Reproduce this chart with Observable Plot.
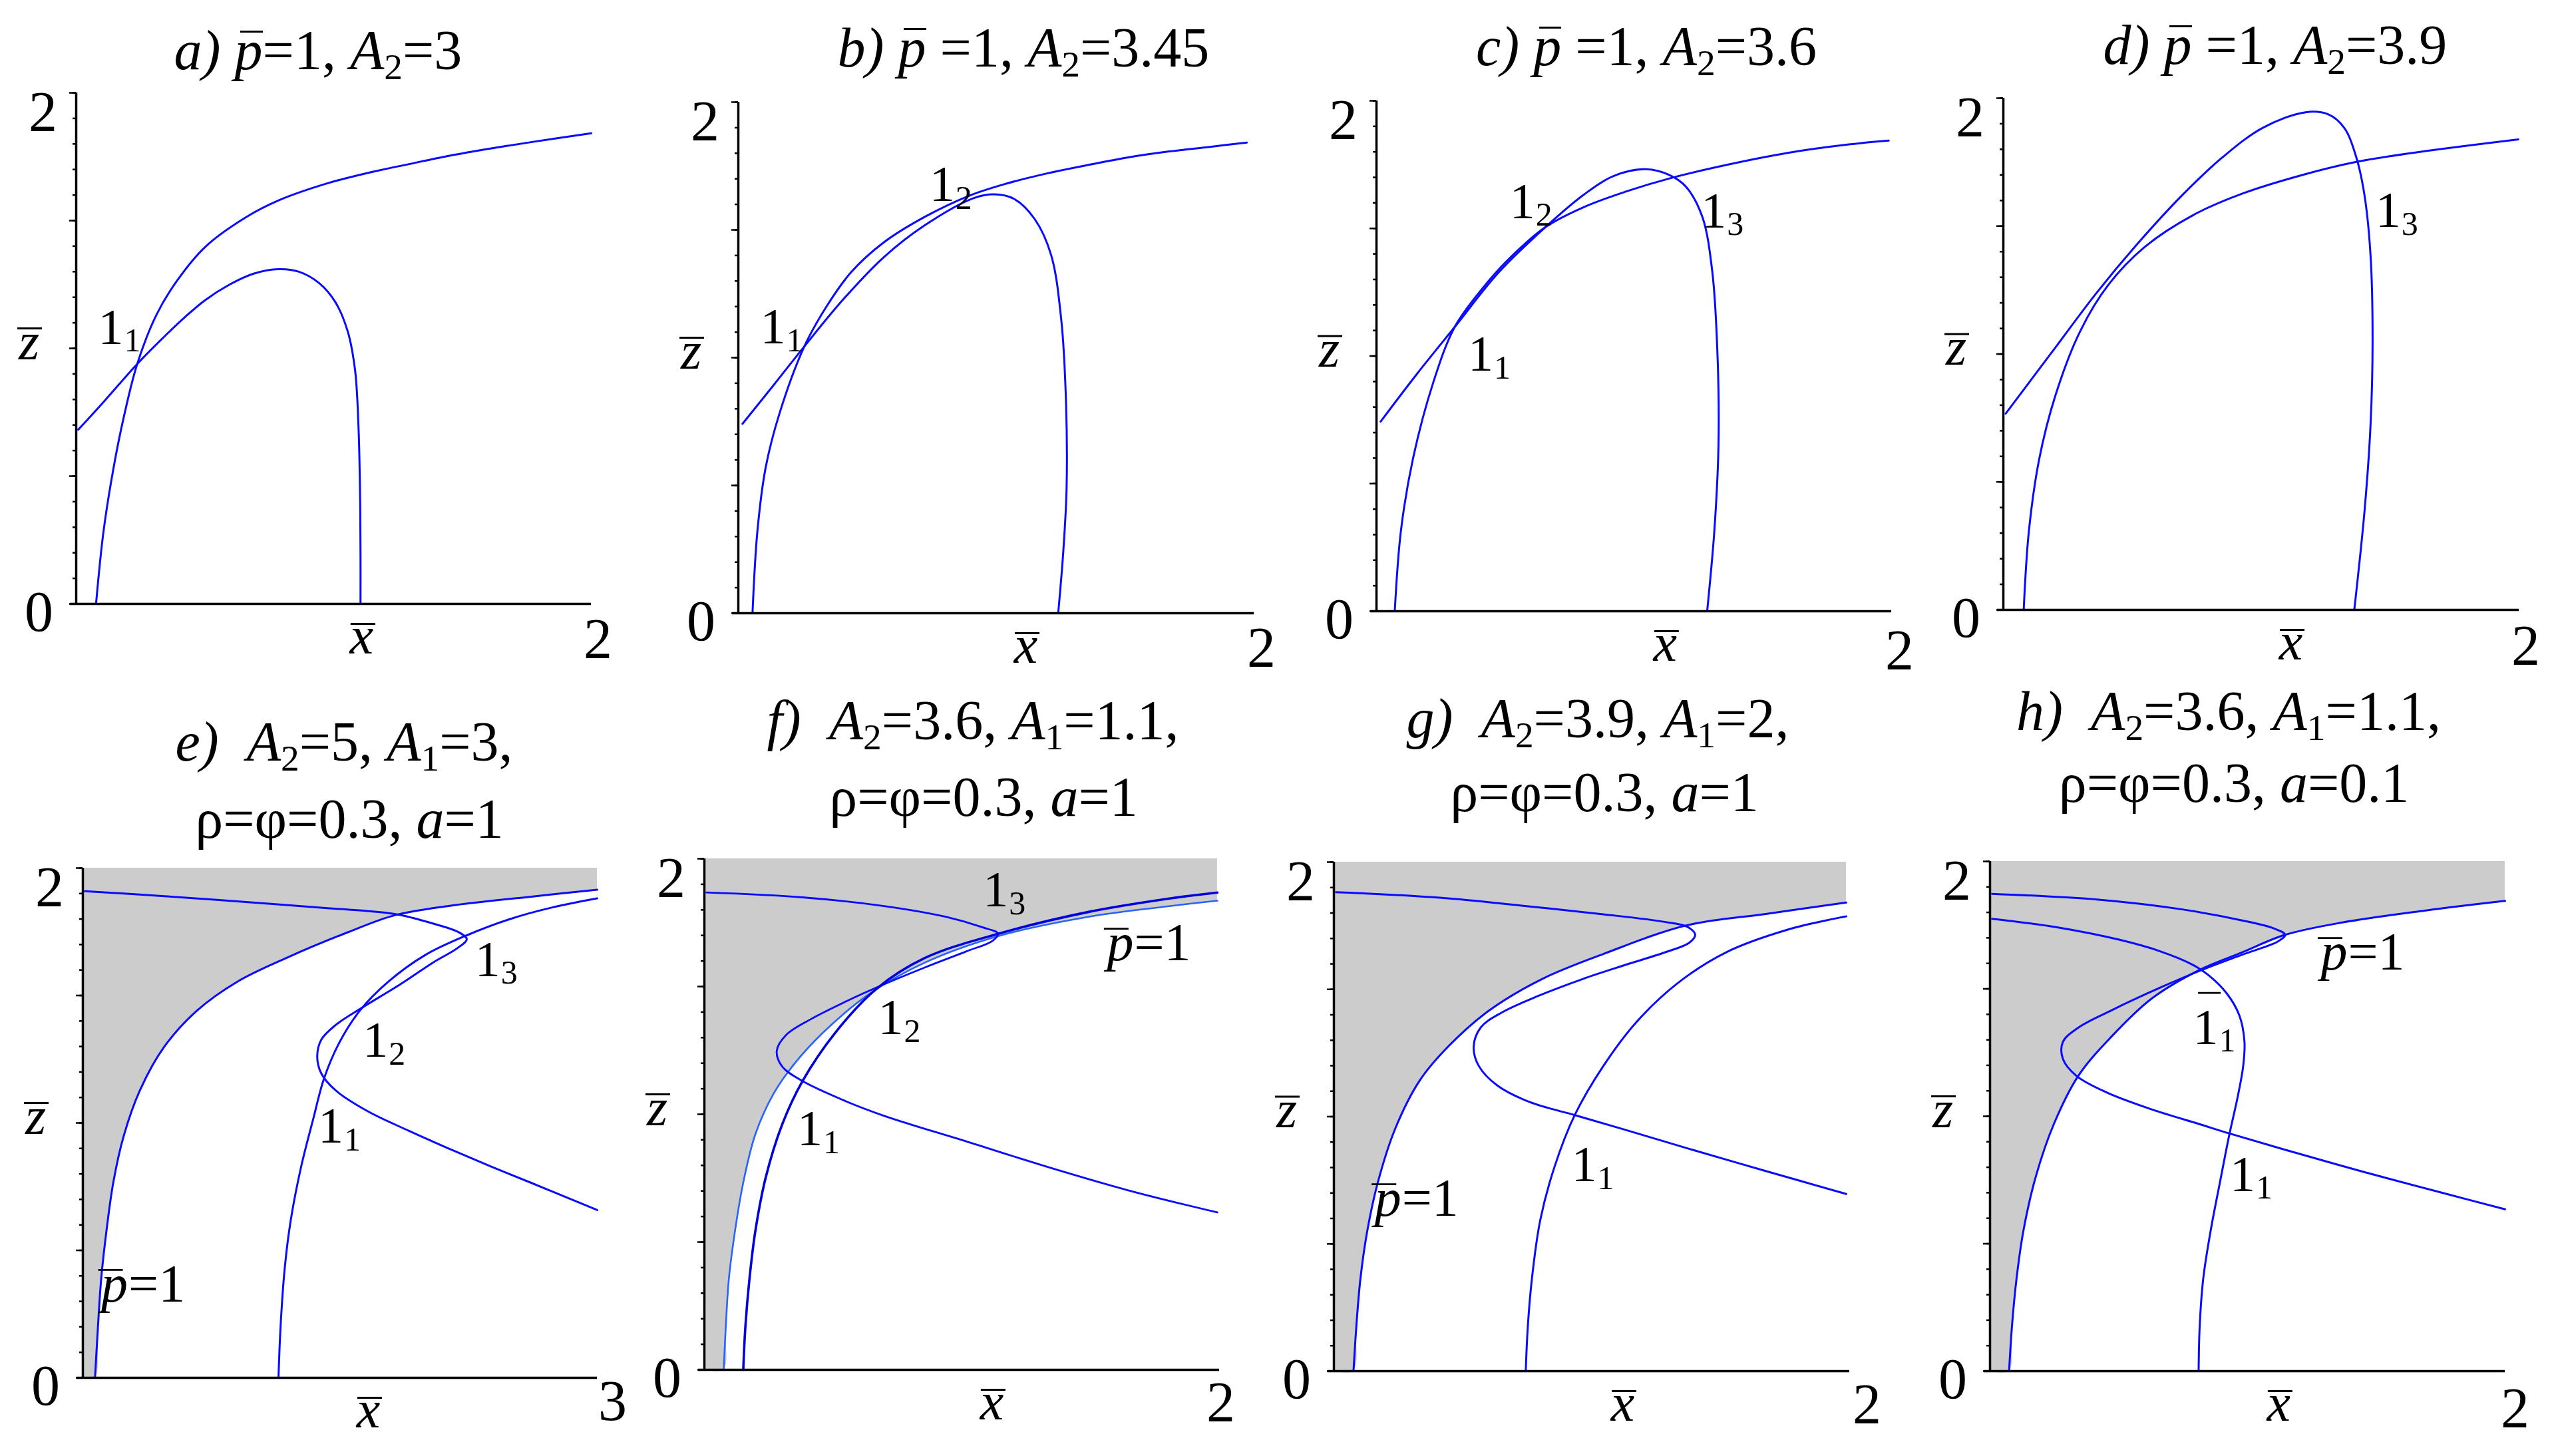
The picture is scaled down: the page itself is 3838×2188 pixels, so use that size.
<!DOCTYPE html>
<html><head><meta charset="utf-8">
<script src="https://cdn.jsdelivr.net/npm/d3@7"></script>
<script src="https://cdn.jsdelivr.net/npm/@observablehq/plot@0.6"></script>
<style>
html,body{margin:0;padding:0;background:#fff;}
#page{position:relative;width:3838px;height:2188px;overflow:hidden;background:#fff;font-family:"Liberation Serif","Times New Roman",serif;color:#000;}
.title{position:absolute;width:1400px;text-align:center;font-size:84px;line-height:1;white-space:pre;}
.title sub{font-size:0.66em;vertical-align:baseline;position:relative;top:0.28em;line-height:0;font-style:normal;}
.ob{position:relative;display:inline-block;}
.ob::before{content:"";position:absolute;left:0.1em;right:0.0em;top:0.15em;border-top:3px solid #000;}
</style>
</head><body><div id="page"></div>
<script>
// ---------- data (data units: x̄ horizontal, z̄ vertical) ----------
const zMinor = [0,0.1,0.2,0.3,0.4,0.5,0.6,0.7,0.8,0.9,1,1.1,1.2,1.3,1.4,1.5,1.6,1.7,1.8,1.9,2];
const zMajor = [0,0.5,1,1.5,2];
const zTickTop = [{v:2, t:"2"}];
const zTickBottom = [{v:0, t:"0"}];
const xEndTicks = [2,2,2,2,3,2,2,2];

// panel a
const aP1 = [[0.077,0],[0.106,0.283],[0.145,0.532],[0.185,0.732],[0.237,0.939],[0.311,1.130],[0.391,1.264],[0.501,1.397],[0.659,1.513],[0.786,1.579],[0.976,1.646],[1.134,1.687],[1.292,1.721],[1.450,1.754],[1.608,1.782],[1.766,1.807],[2.000,1.842]];
const aArch = [[0.008,0.682],[0.106,0.790],[0.237,0.939],[0.343,1.047],[0.422,1.122],[0.501,1.189],[0.596,1.250],[0.691,1.293],[0.786,1.310],[0.865,1.300],[0.944,1.255],[1.007,1.180],[1.055,1.064],[1.083,0.914],[1.096,0.698],[1.102,0.449],[1.104,0.200],[1.104,0]];
// panel b
const bP1 = [[0.055,0],[0.074,0.321],[0.106,0.570],[0.161,0.786],[0.256,1.044],[0.343,1.202],[0.438,1.335],[0.564,1.451],[0.723,1.551],[0.896,1.634],[1.039,1.681],[1.197,1.721],[1.355,1.754],[1.513,1.784],[1.671,1.807],[1.829,1.825],[1.972,1.842]];
const bArch = [[0.016,0.741],[0.138,0.894],[0.256,1.044],[0.406,1.227],[0.564,1.393],[0.723,1.518],[0.912,1.624],[0.991,1.639],[1.070,1.621],[1.149,1.543],[1.213,1.402],[1.252,1.152],[1.271,0.820],[1.273,0.487],[1.260,0.238],[1.241,0.005]];
// panel c
const cP1 = [[0.071,0],[0.095,0.316],[0.142,0.599],[0.221,0.898],[0.304,1.114],[0.411,1.264],[0.506,1.372],[0.656,1.505],[0.806,1.584],[0.964,1.643],[1.138,1.696],[1.360,1.749],[1.597,1.796],[1.834,1.829],[1.989,1.844]];
const cArch = [[0.016,0.743],[0.158,0.931],[0.304,1.114],[0.474,1.327],[0.656,1.505],[0.806,1.633],[0.917,1.704],[1.043,1.732],[1.138,1.709],[1.202,1.663],[1.265,1.546],[1.304,1.330],[1.325,0.981],[1.328,0.648],[1.312,0.316],[1.284,0]];
// panel d
const dP1 = [[0.079,0],[0.099,0.307],[0.139,0.589],[0.202,0.838],[0.297,1.087],[0.407,1.270],[0.549,1.419],[0.738,1.544],[0.927,1.627],[1.164,1.701],[1.369,1.751],[1.637,1.793],[1.997,1.839]];
const dArch = [[0.009,0.767],[0.186,1.004],[0.360,1.237],[0.517,1.427],[0.691,1.618],[0.849,1.768],[1.006,1.884],[1.172,1.945],[1.259,1.937],[1.322,1.884],[1.369,1.768],[1.401,1.618],[1.424,1.386],[1.432,1.054],[1.424,0.722],[1.401,0.390],[1.361,0]];
// panel e
const eP1 = [[0.071,0],[0.088,0.199],[0.107,0.389],[0.138,0.578],[0.178,0.768],[0.238,0.948],[0.333,1.128],[0.475,1.299],[0.666,1.441],[0.903,1.555],[1.189,1.648],[1.545,1.748],[1.819,1.815],[2.139,1.852],[2.615,1.888],[3.0,1.915]];
const eS = [[0.012,1.909],[0.475,1.890],[0.951,1.867],[1.426,1.843],[1.819,1.820],[2.044,1.782],[2.187,1.750],[2.239,1.721],[2.187,1.687],[2.044,1.630],[1.854,1.545],[1.616,1.447],[1.474,1.384],[1.391,1.327],[1.367,1.261],[1.391,1.194],[1.474,1.128],[1.664,1.045],[1.902,0.969],[2.139,0.898],[2.377,0.830],[2.615,0.765],[3.0,0.658]];
const eT = [[1.141,0],[1.153,0.199],[1.177,0.427],[1.212,0.616],[1.272,0.825],[1.343,1.014],[1.407,1.175],[1.498,1.318],[1.616,1.441],[1.783,1.555],[1.997,1.659],[2.235,1.735],[2.496,1.801],[2.734,1.845],[3.0,1.881]];
// panel f
const fS = [[0.008,1.868],[0.381,1.849],[0.698,1.815],[0.937,1.773],[1.079,1.732],[1.140,1.707],[1.119,1.679],[1.016,1.637],[0.857,1.575],[0.698,1.509],[0.540,1.437],[0.413,1.372],[0.317,1.310],[0.281,1.248],[0.302,1.187],[0.381,1.130],[0.540,1.055],[0.698,0.994],[1.016,0.894],[1.333,0.794],[1.651,0.701],[1.992,0.616]];
const fP1 = [[0.075,0],[0.083,0.166],[0.095,0.355],[0.119,0.544],[0.151,0.733],[0.198,0.922],[0.270,1.083],[0.349,1.197],[0.460,1.319],[0.635,1.467],[0.857,1.594],[1.143,1.698],[1.492,1.773],[1.810,1.815],[1.992,1.836]];
const fT = [[0.151,0],[0.159,0.166],[0.175,0.355],[0.198,0.544],[0.238,0.752],[0.302,0.960],[0.381,1.130],[0.508,1.319],[0.667,1.490],[0.857,1.612],[1.143,1.707],[1.492,1.792],[1.810,1.845],[1.992,1.868]];
// panel g
const gS = [[0.008,1.882],[0.412,1.860],[0.728,1.829],[1.045,1.795],[1.283,1.765],[1.370,1.746],[1.401,1.715],[1.378,1.683],[1.283,1.645],[1.124,1.594],[0.966,1.541],[0.792,1.474],[0.649,1.408],[0.570,1.351],[0.542,1.275],[0.562,1.199],[0.633,1.123],[0.760,1.057],[0.934,1.006],[1.124,0.950],[1.362,0.878],[1.679,0.785],[1.987,0.696]];
const gP1 = [[0.076,0],[0.087,0.175],[0.103,0.364],[0.130,0.554],[0.171,0.744],[0.238,0.953],[0.333,1.142],[0.443,1.275],[0.602,1.417],[0.808,1.541],[1.045,1.639],[1.362,1.750],[1.679,1.797],[1.987,1.841]];
const gT = [[0.744,0],[0.752,0.175],[0.768,0.364],[0.800,0.592],[0.855,0.801],[0.934,1.006],[1.045,1.199],[1.172,1.370],[1.330,1.522],[1.520,1.645],[1.758,1.734],[1.987,1.787]];
// panel h
const hS = [[0.008,1.873],[0.422,1.850],[0.738,1.813],[0.976,1.769],[1.102,1.737],[1.146,1.712],[1.118,1.686],[0.976,1.633],[0.817,1.572],[0.659,1.504],[0.470,1.415],[0.343,1.348],[0.283,1.292],[0.283,1.225],[0.335,1.159],[0.454,1.093],[0.628,1.027],[0.817,0.968],[0.928,0.933],[1.134,0.872],[1.450,0.782],[1.766,0.697],[2.000,0.635]];
const hP1 = [[0.074,0],[0.085,0.174],[0.103,0.364],[0.130,0.553],[0.177,0.761],[0.248,0.970],[0.343,1.159],[0.470,1.311],[0.628,1.462],[0.817,1.576],[0.976,1.642],[1.146,1.712],[1.371,1.761],[1.687,1.807],[2.000,1.845]];
const hT = [[0.008,1.775],[0.264,1.741],[0.501,1.693],[0.659,1.648],[0.786,1.595],[0.849,1.553],[0.920,1.481],[0.968,1.396],[0.988,1.292],[0.983,1.197],[0.963,1.083],[0.928,0.922],[0.893,0.742],[0.857,0.553],[0.828,0.364],[0.814,0.174],[0.810,0]];

// point labels
const aLab = [{x:0.106,z:1.081,t:"1",s:"1"}];
const bLab = [{x:0.106,z:1.119,t:"1",s:"1"},{x:0.762,z:1.676,t:"1",s:"2"}];
const cLab = [{x:0.376,z:1.006,t:"1",s:"1"},{x:0.538,z:1.604,t:"1",s:"2"},{x:1.281,z:1.568,t:"1",s:"3"}];
const dLab = [{x:1.464,z:1.560,t:"1",s:"3"}];
const eLab = [{x:1.403,z:0.986,t:"1",s:"1"},{x:1.664,z:1.323,t:"1",s:"2"},{x:2.318,z:1.640,t:"1",s:"3"}];
const fLab = [{x:0.381,z:0.941,t:"1",s:"1"},{x:0.695,z:1.376,t:"1",s:"2"},{x:1.103,z:1.877,t:"1",s:"3"}];
const gLab = [{x:0.942,z:0.810,t:"1",s:"1"}];
const hLab = [{x:0.809,z:1.348,t:"1",s:"1",bar:true},{x:0.952,z:0.771,t:"1",s:"1"}];
const ePLab = [{x:0.107,z:0.366}];
const fPLab = [{x:1.563,z:1.669}];
const gPLab = [{x:0.158,z:0.677}];
const hPLab = [{x:1.284,z:1.642}];

const titles = [
  ['<i>a)</i> <i class="ob">p</i>=1, <i>A</i><sub>2</sub>=3'],
  ['<i>b)</i> <i class="ob">p</i> =1, <i>A</i><sub>2</sub>=3.45'],
  ['<i>c)</i> <i class="ob">p</i> =1, <i>A</i><sub>2</sub>=3.6'],
  ['<i>d)</i> <i class="ob">p</i> =1, <i>A</i><sub>2</sub>=3.9'],
  ['<i>e)</i>  <i>A</i><sub>2</sub>=5, <i>A</i><sub>1</sub>=3,', 'ρ=φ=0.3, <i>a</i>=1'],
  ['<i>f)</i>  <i>A</i><sub>2</sub>=3.6, <i>A</i><sub>1</sub>=1.1,', 'ρ=φ=0.3, <i>a</i>=1'],
  ['<i>g)</i>  <i>A</i><sub>2</sub>=3.9, <i>A</i><sub>1</sub>=2,', 'ρ=φ=0.3, <i>a</i>=1'],
  ['<i>h)</i>  <i>A</i><sub>2</sub>=3.6, <i>A</i><sub>1</sub>=1.1,', 'ρ=φ=0.3, <i>a</i>=0.1']
];

// ---------- layout ----------
const titleLayout = [
  [[478,104]], [[1538,100]], [[2474,98]], [[3419,96]],
  [[517,1143],[525,1259]], [[1462,1111],[1478,1226]], [[2401,1108],[2411,1219]], [[3349,1097],[3357,1205]]
];
const FONT = '"Liberation Serif","Times New Roman",serif';
const BLUE = "#0a0aff";
const panels = [
  {X0:114, X1:888, Zt:139, Zb:907, exd:10, eyd:52, xLab:1.108, curves:[{d:aP1},{d:aArch}], labels:aLab},
  {X0:1109, X1:1884, Zt:153, Zb:921, exd:11, eyd:51, xLab:1.115, curves:[{d:bP1},{d:bArch}], labels:bLab},
  {X0:2068, X1:2842, Zt:151, Zb:918, exd:12, eyd:58, xLab:1.121, curves:[{d:cP1},{d:cArch}], labels:cLab},
  {X0:3010, X1:3785, Zt:147, Zb:916, exd:10, eyd:53, xLab:1.115, curves:[{d:dP1},{d:dArch}], labels:dLab},
  {X0:124, X1:897, Zt:1304, Zb:2070, exd:23, eyd:34, xLab:1.665, area:eP1, curves:[{d:eP1},{d:eS},{d:eT}], labels:eLab, plab:ePLab},
  {X0:1058, X1:1832, Zt:1290, Zb:2058, exd:2, eyd:48, xLab:1.116, area:fP1, curves:[{d:fP1, c:"#2862ff", w:2.6},{d:fS, w:2.8},{d:fT, c:"#0000dc", w:3.6}], labels:fLab, plab:fPLab},
  {X0:2004, X1:2779, Zt:1295, Zb:2060, exd:26, eyd:49, xLab:1.12, area:gP1, curves:[{d:gP1},{d:gS},{d:gT}], labels:gLab, plab:gPLab},
  {X0:2990, X1:3764, Zt:1294, Zb:2060, exd:15, eyd:55, xLab:1.121, area:hP1, curves:[{d:hP1},{d:hS},{d:hT}], labels:hLab, plab:hPLab}
];

const page = document.getElementById("page");

function txt(data, o) { return Plot.text(data, {fontFamily: FONT, fill: "#000", ...o}); }
function bar(data, o) { return Plot.ruleY(data, {stroke: "#000", strokeWidth: 3, ...o}); }

panels.forEach((p, i) => {
  const xmax = xEndTicks[i];
  const ML = 170, MR = 110, MT = 90, MB = 140;
  const W = p.X1 - p.X0 + ML + MR, H = p.Zb - p.Zt + MT + MB;
  const axisNames = [{x: p.xLab, z: 0, t: "x"}];
  const marks = [];
  if (p.area) marks.push(Plot.areaY([[0,0], ...p.area], {x: d => d[0], y1: d => d[1], y2: 2, fill: "#cccccc", curve: "catmull-rom"}));
  for (const c of p.curves) {
    marks.push(Plot.line(c.d, {x: d => d[0], y: d => d[1], stroke: c.c || BLUE, strokeWidth: c.w || 3, curve: "catmull-rom", strokeLinejoin: "round", strokeLinecap: "round"}));
  }
  marks.push(Plot.axisY({ticks: zMinor, tickSize: 5, tickFormat: () => "", strokeWidth: 2.5, label: null}));
  marks.push(Plot.axisY({ticks: zMajor, tickSize: 10, tickFormat: () => "", strokeWidth: 2.5, label: null}));
  marks.push(Plot.ruleX([0], {stroke: "#000", strokeWidth: 3.5}));
  marks.push(Plot.ruleY([0], {stroke: "#000", strokeWidth: 3.5, insetLeft: -9}));
  // tick labels
  marks.push(txt(zTickTop, {x: 0, y: d => d.v, text: d => d.t, fontSize: 86, dx: -50, dy: 30}));
  marks.push(txt(zTickBottom, {x: 0, y: d => d.v, text: d => d.t, fontSize: 86, dx: -56, dy: 13}));
  marks.push(txt([xmax], {x: d => d, y: 0, text: d => String(d), fontSize: 86, dx: p.exd, dy: p.eyd + 1.5}));
  // axis names with bars
  marks.push(txt(axisNames, {x: "x", y: "z", text: "t", fontSize: 80, fontStyle: "italic", dy: 49}));
  marks.push(bar(axisNames, {x1: "x", x2: "x", y: "z", dy: 30, insetLeft: -16, insetRight: -21}));
  marks.push(txt(["z"], {x: 0, y: 1.0, text: d => d, fontSize: 80, fontStyle: "italic", dx: -71, dy: -9.5}));
  marks.push(bar([1.0], {x1: 0, x2: 0, dy: -30, insetLeft: -88, insetRight: 51}));
  // point labels
  marks.push(txt(p.labels, {x: "x", y: "z", text: "t", fontSize: 76, textAnchor: "start", dx: -8}));
  marks.push(txt(p.labels, {x: "x", y: "z", text: "s", fontSize: 50, textAnchor: "start", dx: 31, dy: 20}));
  marks.push(bar(p.labels.filter(d => d.bar), {x1: "x", x2: "x", y: "z", dy: -52, insetLeft: 0, insetRight: -34, strokeWidth: 2.8}));
  if (p.plab) {
    marks.push(txt(p.plab, {x: "x", y: "z", text: () => "p", fontStyle: "italic", fontSize: 80, textAnchor: "start"}));
    marks.push(txt(p.plab, {x: "x", y: "z", text: () => "=1", fontSize: 80, textAnchor: "start", dx: 41}));
    marks.push(bar(p.plab, {x1: "x", x2: "x", y: "z", dy: -22, insetLeft: -4, insetRight: -33, strokeWidth: 2.8}));
  }
  const svg = Plot.plot({
    width: W, height: H,
    marginLeft: ML, marginRight: MR, marginTop: MT, marginBottom: MB,
    x: {domain: [0, xmax], axis: null},
    y: {domain: [0, 2]},
    style: {background: "transparent", overflow: "visible", fontFamily: FONT},
    marks
  });
  svg.style.position = "absolute";
  svg.style.left = (p.X0 - ML) + "px";
  svg.style.top = (p.Zt - MT) + "px";
  svg.style.maxWidth = "none";
  page.appendChild(svg);
});

titles.forEach((lines, i) => {
  lines.forEach((html, j) => {
    const [cx, base] = titleLayout[i][j];
    const div = document.createElement("div");
    div.className = "title";
    div.innerHTML = html;
    div.style.left = (cx - 700) + "px";
    div.style.top = (base - 70.4) + "px";
    page.appendChild(div);
  });
});
</script></body></html>
